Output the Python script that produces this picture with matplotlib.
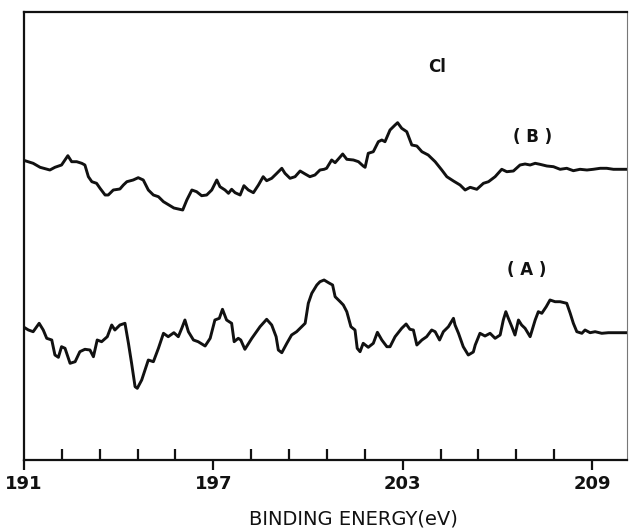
import numpy as np
import matplotlib
matplotlib.use("Agg")
import matplotlib.pyplot as plt
from matplotlib.ticker import MultipleLocator

# binding energy (eV) and intensity (arb. units)
energy_b = [191.03, 191.29, 191.51, 191.82, 191.98, 192.19, 192.39, 192.51, 192.67, 192.83,
            192.93, 193.04, 193.15, 193.30, 193.41, 193.57, 193.67, 193.83, 194.04, 194.15,
            194.26, 194.46, 194.62, 194.78, 194.94, 195.10, 195.26, 195.42, 195.63, 195.75,
            196.03, 196.16, 196.32, 196.47, 196.63, 196.79, 196.95, 197.11, 197.21, 197.37,
            197.48, 197.58, 197.69, 197.85, 197.97, 198.11, 198.27, 198.43, 198.58, 198.69,
            198.85, 198.99, 199.17, 199.27, 199.43, 199.59, 199.75, 199.91, 200.06, 200.22,
            200.38, 200.51, 200.59, 200.75, 200.86, 201.10, 201.23, 201.44, 201.60, 201.75,
            201.81, 201.91, 202.07, 202.23, 202.34, 202.44, 202.60, 202.76, 202.84, 202.97,
            203.13, 203.29, 203.45, 203.61, 203.81, 204.03, 204.24, 204.40, 204.61, 204.82,
            204.98, 205.14, 205.35, 205.56, 205.72, 205.93, 206.14, 206.30, 206.51, 206.72,
            206.88, 207.04, 207.20, 207.35, 207.57, 207.78, 207.99, 208.20, 208.41, 208.62,
            208.84, 209.04, 209.26, 209.47, 209.68, 209.89, 210.10]
counts_b = [299.3, 296.7, 292.7, 290.0, 292.7, 295.0, 304.3, 298.3, 298.3, 296.7,
            295.0, 283.3, 278.3, 276.7, 271.7, 265.0, 265.0, 270.0, 271.0, 275.0,
            278.3, 280.0, 282.3, 280.0, 270.0, 265.0, 263.3, 258.3, 254.3, 252.0,
            250.0, 260.0, 270.0, 268.3, 264.3, 265.0, 270.0, 280.0, 273.3, 270.0,
            266.7, 270.7, 267.3, 265.0, 274.3, 270.0, 267.3, 275.0, 283.3, 279.3,
            281.7, 286.0, 291.7, 286.7, 281.7, 283.3, 289.0, 286.0, 283.3, 285.0,
            290.0, 290.7, 291.7, 300.0, 297.3, 306.0, 300.7, 300.0, 298.3, 294.0,
            292.7, 306.7, 308.3, 318.3, 320.0, 318.3, 330.0, 335.0, 337.3, 331.7,
            328.3, 315.0, 314.0, 308.3, 305.0, 298.3, 290.0, 283.3, 279.0, 275.0,
            270.0, 272.7, 270.7, 276.7, 278.3, 283.3, 290.7, 288.3, 289.0, 295.0,
            296.0, 295.0, 296.7, 295.7, 294.0, 293.3, 290.7, 291.7, 289.3, 290.7,
            290.0, 290.7, 291.7, 291.7, 290.7, 290.7, 290.7]

energy_a = [191.00, 191.14, 191.29, 191.48, 191.61, 191.72, 191.88, 191.98, 192.09, 192.19,
            192.30, 192.46, 192.62, 192.77, 192.93, 193.09, 193.20, 193.32, 193.46, 193.64,
            193.78, 193.88, 194.04, 194.20, 194.31, 194.41, 194.52, 194.59, 194.73, 194.94,
            195.10, 195.26, 195.42, 195.57, 195.75, 195.89, 196.00, 196.10, 196.21, 196.37,
            196.52, 196.74, 196.90, 197.05, 197.19, 197.29, 197.42, 197.58, 197.66, 197.79,
            197.87, 198.00, 198.22, 198.48, 198.69, 198.85, 198.99, 199.06, 199.17, 199.33,
            199.48, 199.64, 199.80, 199.91, 200.01, 200.12, 200.28, 200.38, 200.51, 200.65,
            200.78, 200.86, 201.02, 201.12, 201.23, 201.36, 201.49, 201.56, 201.65, 201.75,
            201.91, 202.07, 202.20, 202.34, 202.50, 202.60, 202.76, 202.97, 203.11, 203.23,
            203.34, 203.45, 203.61, 203.76, 203.92, 204.03, 204.17, 204.29, 204.45, 204.61,
            204.66, 204.77, 204.92, 205.08, 205.24, 205.30, 205.45, 205.61, 205.77, 205.93,
            206.09, 206.19, 206.27, 206.35, 206.46, 206.56, 206.67, 206.77, 206.88, 207.04,
            207.20, 207.30, 207.41, 207.55, 207.67, 207.83, 207.99, 208.20, 208.31, 208.41,
            208.52, 208.68, 208.78, 208.94, 209.10, 209.31, 209.52, 209.79, 210.10]
counts_a = [132.7, 130.0, 128.3, 136.7, 130.0, 121.7, 120.0, 105.0, 102.7, 113.3,
            111.7, 96.7, 98.3, 108.3, 110.7, 110.0, 103.3, 120.0, 118.3, 123.3,
            135.0, 130.0, 135.0, 136.7, 116.7, 96.7, 73.3, 71.7, 80.0, 100.0,
            98.3, 111.7, 126.7, 123.3, 127.3, 123.3, 131.7, 140.0, 128.3, 120.0,
            118.3, 114.0, 121.7, 140.0, 141.7, 150.7, 140.0, 136.7, 118.3, 121.7,
            120.0, 110.7, 121.7, 133.3, 140.7, 135.0, 123.3, 110.0, 107.3, 116.7,
            125.0, 128.3, 133.3, 136.7, 156.7, 166.7, 175.0, 178.3, 180.0, 177.3,
            175.0, 163.3, 158.3, 155.0, 148.3, 133.3, 130.0, 111.7, 108.3, 116.7,
            112.7, 116.7, 127.7, 120.0, 113.3, 113.3, 123.3, 131.7, 136.0, 130.7,
            130.0, 115.0, 120.0, 123.3, 130.0, 128.3, 120.0, 128.3, 133.3, 141.7,
            135.0, 126.7, 113.3, 105.0, 108.0, 115.0, 126.7, 124.0, 126.7, 121.7,
            125.0, 140.0, 148.3, 141.7, 133.3, 125.0, 140.0, 135.0, 131.7, 123.3,
            140.0, 148.3, 146.7, 153.3, 160.0, 158.3, 158.3, 156.7, 146.7, 136.7,
            128.3, 126.7, 130.0, 127.3, 128.3, 126.7, 127.3, 127.3, 127.3]

major_ticks = [191, 197, 203, 209]

fig = plt.figure(figsize=(6.29, 5.32), dpi=100)
ax = fig.add_axes([24/629, 72/532, 603/629, 448/532])

ink = "#111111"
ax.plot(energy_b, counts_b, color=ink, lw=2.1, solid_joinstyle="round")
ax.plot(energy_a, counts_a, color=ink, lw=2.1, solid_joinstyle="round")

ax.set_xlim(191, 210.11)
ax.set_ylim(0, 448)

ax.set_xticks(major_ticks)
ax.set_xticklabels([str(t) for t in major_ticks], fontsize=13, fontweight="bold", color=ink)
ax.xaxis.set_minor_locator(MultipleLocator(1.2, offset=191))
ax.tick_params(axis="x", which="major", direction="out", length=7, width=1.6, pad=4, color=ink)
ax.tick_params(axis="x", which="minor", direction="in", length=8, width=1.6, color=ink)
ax.set_yticks([])

for side in ["left", "top", "bottom"]:
    ax.spines[side].set_linewidth(1.6)
    ax.spines[side].set_color(ink)
ax.spines["right"].set_linewidth(0.8)
ax.spines["right"].set_color("#777777")

# peak labels
ax.text(204.09, 393, "Cl", fontsize=12, fontweight="bold", ha="center", va="center", color=ink)
ax.text(207.13, 323, "( B )", fontsize=12, fontweight="bold", ha="center", va="center", color=ink)
ax.text(206.94, 190, "( A )", fontsize=12, fontweight="bold", ha="center", va="center", color=ink)

ax.set_xlabel("BINDING ENERGY(eV)", fontsize=14, color=ink, labelpad=12)
ax.xaxis.label.set_x(0.546)

fig.savefig("out.png", dpi=100)
